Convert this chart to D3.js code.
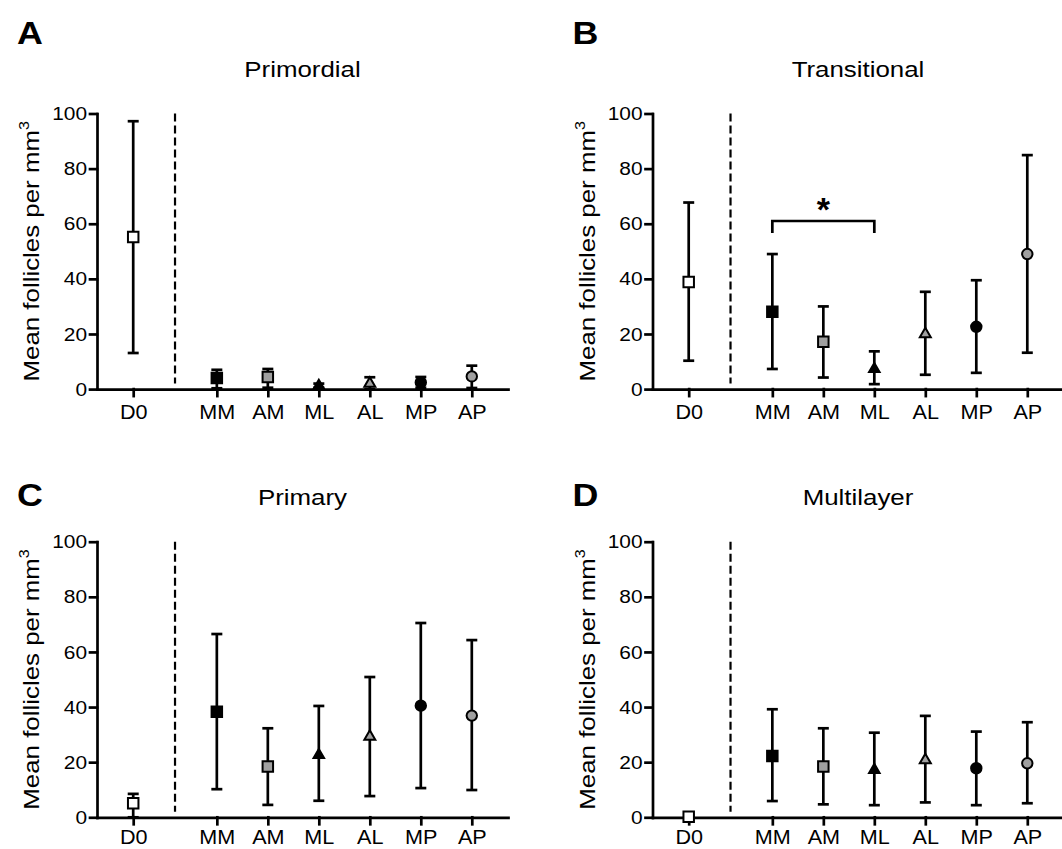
<!DOCTYPE html>
<html>
<head>
<meta charset="utf-8">
<script src="https://cdn.jsdelivr.net/npm/d3@7"></script>
<style>
  body { margin: 0; background: #fff; }
  text { font-family: "Liberation Sans", Arial, sans-serif; fill: #000; }
</style>
</head>
<body>
<svg id="chart" width="1062" height="849"></svg>
<script>
// --- datos ---
const groups = ["D0", "MM", "AM", "ML", "AL", "MP", "AP"];
const yTicks = [0, 20, 40, 60, 80, 100];

const primordialMean = [55.2, 4.0, 4.4, 1.2, 2.0, 2.4, 4.6];
const primordialLow  = [13.1, 0.3, 0.5, 0.5, 0.0, 0.5, 0.4];
const primordialHigh = [97.2, 7.0, 7.3, 2.0, 4.3, 4.4, 8.5];

const transitionalMean = [38.9, 28.1, 17.2, 7.3, 20.0, 22.6, 49.0];
const transitionalLow  = [10.3, 7.3, 4.2, 1.8, 5.2, 5.9, 13.2];
const transitionalHigh = [67.7, 49.0, 30.0, 13.7, 35.3, 39.5, 84.9];

const primaryMean = [5.1, 38.3, 18.4, 22.6, 29.3, 40.5, 36.9];
const primaryLow  = [0.0, 10.2, 4.5, 6.0, 7.7, 10.6, 9.9];
const primaryHigh = [8.5, 66.5, 32.3, 40.4, 50.9, 70.5, 64.3];

const multilayerMean = [0.2, 22.2, 18.4, 17.2, 20.8, 17.8, 19.6];
const multilayerLow  = [0.2, 5.9, 4.7, 4.4, 5.4, 4.4, 5.1];
const multilayerHigh = [0.2, 39.2, 32.3, 30.7, 36.8, 31.1, 34.5];

// comparación significativa (panel B)
const sigPair = ["MM", "ML"];
const sigLevel = 61;
const sigDrop = 56.6;
const sigStarAt = 68;

// --- layout ---
const plotW = 411, plotH = 275.6;
const slots = [0.71, 2.35, 3.35, 4.35, 5.35, 6.35, 7.35];
const dividerSlot = 1.53;
const gray = "#a0a0a0";
const lw = 2.7;

// forma y relleno de cada grupo
const markerStyle = {
  D0: { shape: d3.symbolSquare, fill: "#fff", size: 110 },
  MM: { shape: d3.symbolSquare, fill: "#000", size: 110 },
  AM: { shape: d3.symbolSquare, fill: gray, size: 110 },
  ML: { shape: d3.symbolTriangle, fill: "#000", size: 48 },
  AL: { shape: d3.symbolTriangle, fill: gray, size: 52 },
  MP: { shape: d3.symbolCircle, fill: "#000", size: 85 },
  AP: { shape: d3.symbolCircle, fill: gray, size: 85 }
};

const panels = [
  { letter: "A", title: "Primordial", mean: primordialMean, low: primordialLow, high: primordialHigh,
    left: 97, top: 113.5, letterY: 43.5, pad: 9 },
  { letter: "B", title: "Transitional", mean: transitionalMean, low: transitionalLow, high: transitionalHigh,
    left: 652.5, top: 113.5, letterY: 43.5, pad: 9, sig: true },
  { letter: "C", title: "Primary", mean: primaryMean, low: primaryLow, high: primaryHigh,
    left: 97, top: 541.7, letterY: 506, pad: 5.5 },
  { letter: "D", title: "Multilayer", mean: multilayerMean, low: multilayerLow, high: multilayerHigh,
    left: 652.5, top: 541.7, letterY: 506, pad: 5.5 }
];

const svg = d3.select("#chart");
svg.append("rect").attr("width", 1062).attr("height", 849).attr("fill", "#fff");

panels.forEach(drawPanel);

function drawPanel(p) {
  const x = d3.scaleLinear().domain([0, 8.06]).range([0, plotW]);
  const y = d3.scaleLinear().domain([0, 100]).range([plotH, 0]);
  const gx = i => x(slots[i]);

  // letra y título
  svg.append("text")
    .attr("transform", `translate(${p.left - 80},${p.letterY}) scale(1.12,1)`)
    .style("font-size", "32px").style("font-weight", "bold")
    .text(p.letter);

  svg.append("text")
    .attr("transform", `translate(${p.left + plotW / 2},${p.top - 36.5}) scale(1.15,1)`)
    .attr("text-anchor", "middle")
    .style("font-size", "22.5px")
    .text(p.title);

  // etiqueta eje y
  const yl = svg.append("text")
    .attr("transform", `translate(${p.left - 58},${p.top + plotH / 2}) rotate(-90) scale(1.15,1)`)
    .attr("text-anchor", "middle")
    .style("font-size", "22.5px");
  yl.append("tspan").text("Mean follicles per mm");
  yl.append("tspan").attr("dy", -10).style("font-size", "14px").text("3");

  const g = svg.append("g").attr("transform", `translate(${p.left},${p.top})`);

  // ejes
  const yAxis = g.append("g")
    .call(d3.axisLeft(y).tickValues(yTicks).tickSize(7).tickSizeOuter(0).tickPadding(2));
  const xAxis = g.append("g")
    .attr("transform", `translate(0,${plotH})`)
    .call(d3.axisBottom(x).tickValues(slots).tickSize(7).tickSizeOuter(0).tickPadding(p.pad)
      .tickFormat((d, i) => groups[i]));

  [yAxis, xAxis].forEach(a => {
    a.selectAll("path, line").attr("stroke", "#000").attr("stroke-width", lw).attr("stroke-linecap", "square");
    a.selectAll("text").attr("fill", "#000").style("font-family", "'Liberation Sans', Arial, sans-serif");
  });
  yAxis.selectAll(".tick text").style("font-size", "19px").attr("transform", "scale(1.1,1)");
  xAxis.selectAll(".tick text").style("font-size", "20px").attr("transform", "scale(1.08,1)");

  // línea punteada D0 | resto
  g.append("line")
    .attr("x1", x(dividerSlot)).attr("x2", x(dividerSlot))
    .attr("y1", y(100)).attr("y2", y(2))
    .attr("stroke", "#000").attr("stroke-width", 2.2).attr("stroke-dasharray", "8,4");

  // barras de error
  const rows = groups.map((name, i) => ({ name, i, mean: p.mean[i], low: p.low[i], high: p.high[i] }));
  const eb = g.append("g").attr("stroke", "#000").attr("stroke-width", lw);
  rows.forEach(d => {
    eb.append("line").attr("x1", gx(d.i)).attr("x2", gx(d.i)).attr("y1", y(d.low)).attr("y2", y(d.high));
    [d.low, d.high].forEach(v => {
      eb.append("line").attr("x1", gx(d.i) - 5.5).attr("x2", gx(d.i) + 5.5).attr("y1", y(v)).attr("y2", y(v));
    });
  });

  // marcadores
  g.selectAll(".marker")
    .data(rows)
    .join("path")
    .attr("class", "marker")
    .attr("transform", d => `translate(${gx(d.i)},${y(d.mean)})`)
    .attr("d", d => d3.symbol().type(markerStyle[d.name].shape).size(markerStyle[d.name].size)())
    .attr("fill", d => markerStyle[d.name].fill)
    .attr("stroke", "#000")
    .attr("stroke-width", 2);

  // significancia
  if (p.sig) {
    const x1 = gx(groups.indexOf(sigPair[0])), x2 = gx(groups.indexOf(sigPair[1]));
    g.append("path")
      .attr("d", `M${x1},${y(sigDrop)}V${y(sigLevel)}H${x2}V${y(sigDrop)}`)
      .attr("fill", "none").attr("stroke", "#000").attr("stroke-width", lw);
    g.append("text")
      .attr("x", (x1 + x2) / 2).attr("y", y(sigStarAt) + 19)
      .attr("text-anchor", "middle")
      .style("font-size", "34px").style("font-weight", "bold")
      .text("*");
  }
}
</script>
</body>
</html>
